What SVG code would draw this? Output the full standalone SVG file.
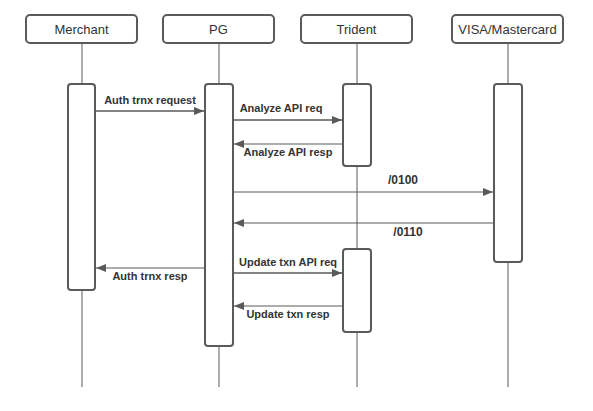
<svg xmlns="http://www.w3.org/2000/svg" width="593" height="411" viewBox="0 0 593 411">
<style>
.hdr{fill:#fff;stroke:#5a5a5a;stroke-width:2}
.act{fill:#fff;stroke:#5a5a5a;stroke-width:2}
.life{stroke:#5a5a5a;stroke-width:1;fill:none}
.ht{font-family:"Liberation Sans",Arial,sans-serif;font-size:13px;fill:#333;text-anchor:middle}
.lbl{font-family:"Liberation Sans",Arial,sans-serif;font-size:11px;font-weight:bold;fill:#333;text-anchor:middle}
.big{font-size:12px}
.req{stroke:#5a5a5a;stroke-width:1.6;fill:none;marker-end:url(#ah)}
.rsp{stroke:#5a5a5a;stroke-width:1;fill:none;marker-end:url(#ah)}
</style>
<defs>
<marker id="ah" viewBox="0 0 10 8" refX="10" refY="4" markerWidth="10" markerHeight="8" markerUnits="userSpaceOnUse" orient="auto">
<path d="M0,0 L10,4 L0,8 Z" fill="#5a5a5a"/>
</marker>
</defs>
<rect width="593" height="411" fill="#fff"/>
<g id="lifelines">
<line class="life" x1="82" y1="43" x2="82" y2="387"/>
<line class="life" x1="219" y1="43" x2="219" y2="387"/>
<line class="life" x1="357" y1="43" x2="357" y2="387"/>
<line class="life" x1="508" y1="43" x2="508" y2="387"/>
</g>
<g id="merchant">
<rect class="hdr" x="26" y="15" width="111" height="28" rx="4"/>
<text class="ht" x="81.5" y="33.5">Merchant</text>
<rect class="act" x="68" y="84" width="27" height="206" rx="3"/>
</g>
<g id="pg">
<rect class="hdr" x="163" y="15" width="111" height="28" rx="4"/>
<text class="ht" x="218.5" y="33.5">PG</text>
<rect class="act" x="205" y="84" width="28" height="262" rx="3"/>
</g>
<g id="trident">
<rect class="hdr" x="301" y="15" width="111" height="28" rx="4"/>
<text class="ht" x="356.5" y="33.5">Trident</text>
<rect class="act" x="343" y="84" width="28" height="82" rx="3"/>
<rect class="act" x="343" y="249" width="28" height="83" rx="3"/>
</g>
<g id="visa">
<rect class="hdr" x="452" y="15" width="111" height="28" rx="4"/>
<text class="ht" x="507.5" y="33.5">VISA/Mastercard</text>
<rect class="act" x="494" y="84" width="28" height="178" rx="3"/>
</g>
<g id="connectors">
<line class="req" x1="96" y1="111" x2="204" y2="111"/>
<text class="lbl" x="150" y="104">Auth trnx request</text>
<line class="req" x1="234" y1="120" x2="342" y2="120"/>
<text class="lbl" x="281" y="112">Analyze API req</text>
<line class="rsp" x1="342" y1="144" x2="234" y2="144"/>
<text class="lbl" x="288" y="156">Analyze API resp</text>
<line class="rsp" x1="234" y1="192" x2="493" y2="192"/>
<text class="lbl big" x="403" y="184">/0100</text>
<line class="rsp" x1="493" y1="223" x2="234" y2="223"/>
<text class="lbl big" x="408" y="236">/0110</text>
<line class="req" x1="234" y1="273" x2="342" y2="273"/>
<text class="lbl" x="288" y="266">Update txn API req</text>
<line class="rsp" x1="204" y1="268" x2="96" y2="268"/>
<text class="lbl" x="150" y="280">Auth trnx resp</text>
<line class="rsp" x1="342" y1="306" x2="234" y2="306"/>
<text class="lbl" x="288" y="318">Update txn resp</text>
</g>
</svg>
